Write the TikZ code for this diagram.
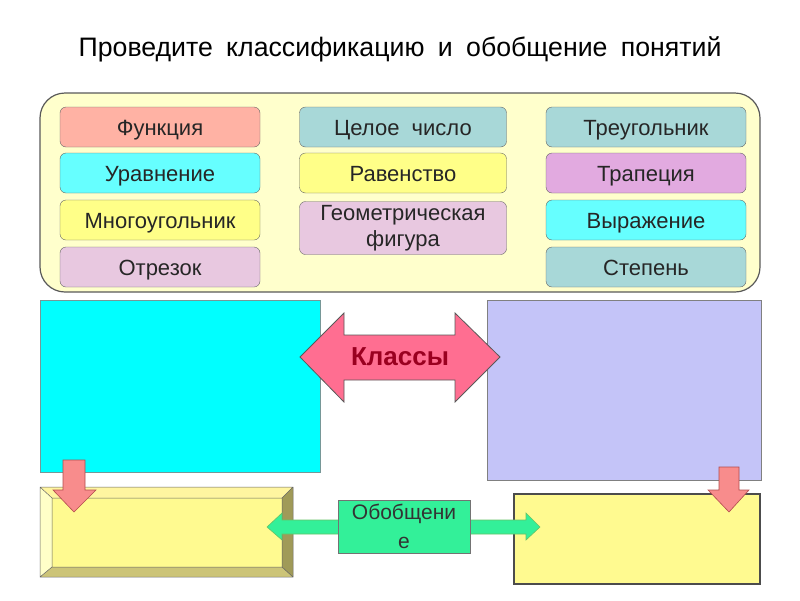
\documentclass[tikz,border=0pt]{standalone}
\usepackage{fontspec}
\setmainfont{Liberation Sans}
\definecolor{panelfill}{HTML}{FFFFCC}
\definecolor{salmon}{HTML}{FFB2A4}
\definecolor{aqua}{HTML}{66FFFF}
\definecolor{lemon}{HTML}{FFFF88}
\definecolor{mauve}{HTML}{E8C8E0}
\definecolor{teal}{HTML}{A8D8D8}
\definecolor{orchid}{HTML}{E2AAE0}
\definecolor{brightcyan}{HTML}{00FFFF}
\definecolor{lavender}{HTML}{C4C4F8}
\definecolor{boxyellow}{HTML}{FFFA90}
\definecolor{bevellight}{HTML}{FFFFC8}
\definecolor{beveltop}{HTML}{FFF5A0}
\definecolor{bevelright}{HTML}{A09A58}
\definecolor{bevelbottom}{HTML}{CCC478}
\definecolor{rose}{HTML}{FF6E91}
\definecolor{pinkarrow}{HTML}{F88C8C}
\definecolor{mint}{HTML}{33F099}
\definecolor{darkred}{HTML}{9A0020}
\begin{document}
\begin{tikzpicture}[x=1pt,y=-1pt,
    tag/.style={draw=gray!80!black,rounded corners=6pt,minimum width=200pt,
      minimum height=40pt,align=center,text=black!85,text height=20pt,text depth=4pt,
      font=\fontsize{22}{25}\selectfont},
    downarr/.style={fill=pinkarrow,draw=red!40!gray,line width=0.6pt}]
  \useasboundingbox (0,0) rectangle (800,600);
  % Title
  \node[font=\fontsize{26.7}{30}\selectfont] (title) at (400,49)
       {\spaceskip=0.5em\relax Проведите классификацию и обобщение понятий};
  % Panel with the concepts
  \draw[fill=panelfill,draw=black!65,line width=1.2pt,rounded corners=25pt]
       (40,93) rectangle (760,292);
  \node[tag,fill=salmon]   (fn)    at (160,127) {Функция};
  \node[tag,fill=aqua]     (eqn)   at (160,173) {Уравнение};
  \node[tag,fill=lemon]    (poly)  at (160,220) {Многоугольник};
  \node[tag,fill=mauve]    (seg)   at (160,267) {Отрезок};
  \node[tag,fill=teal,minimum width=207pt]  (int)   at (403,127) {Целое\ \ число};
  \node[tag,fill=lemon,minimum width=207pt] (equal) at (403,173) {Равенство};
  \node[tag,fill=mauve,minimum width=207pt,minimum height=53pt,text height=,text depth=,
        font=\fontsize{22}{26}\selectfont] (geo) at (403,228) {Геометрическая\\фигура};
  \node[tag,fill=teal]     (tri)   at (646,127) {Треугольник};
  \node[tag,fill=orchid]   (trap)  at (646,173) {Трапеция};
  \node[tag,fill=aqua]     (expr)  at (646,220) {Выражение};
  \node[tag,fill=teal]     (pow)   at (646,267) {Степень};
  % Classes
  \draw[fill=brightcyan,draw=teal!70!black] (40,300) rectangle (320,472);
  \coordinate (cls1) at (180,386);
  \draw[fill=lavender,draw=gray] (487,300) rectangle (761,480);
  \coordinate (cls2) at (624,390);
  % Generalisation boxes
  \fill[bevelbottom] (40,487) rectangle (293,577);
  \fill[beveltop] (40,487) -- (293,487) -- (282,498) -- (52,498) -- cycle;
  \fill[bevellight] (40,487) -- (52,498) -- (52,567) -- (40,577) -- cycle;
  \fill[bevelright] (293,487) -- (293,577) -- (282,567) -- (282,498) -- cycle;
  \fill[boxyellow] (52,498) rectangle (282,567);
  \draw[black!60,line width=0.5pt] (40,487) rectangle (293,577)
       (52,498) rectangle (282,567)
       (40,487) -- (52,498) (293,487) -- (282,498)
       (40,577) -- (52,567) (293,577) -- (282,567);
  \coordinate (gen1) at (166,532);
  \draw[fill=boxyellow,draw=black!70,line width=1.8pt] (514,494) rectangle (760,584);
  \coordinate (gen2) at (637,539);
  % Down arrows
  \draw[downarr] (63,460) -- (85,460) -- (85,490) -- (96,490) -- (74,512)
       -- (53,490) -- (63,490) -- cycle;
  \draw[downarr] (719,467) -- (739,467) -- (739,490) -- (749,490) -- (729,512)
       -- (708,490) -- (719,490) -- cycle;
  % Arrow "Классы"
  \draw[fill=rose,draw=black!65,line width=0.8pt] (300,357) -- (344,313) -- (344,335)
       -- (455,335) -- (455,313) -- (500,357) -- (455,402) -- (455,380)
       -- (344,380) -- (344,402) -- cycle;
  \node[font=\bfseries\fontsize{26}{30}\selectfont,text=darkred] (cls) at (400,357) {Классы};
  % Arrow "Обобщение"
  \draw[fill=mint,draw=green!60!black!60,line width=0.6pt] (267,527) -- (282,513)
       -- (282,520) -- (526,520) -- (526,513) -- (540,527) -- (526,540)
       -- (526,534) -- (282,534) -- (282,540) -- cycle;
  \node[fill=mint,draw=black!55,minimum width=132pt,minimum height=53pt,
        align=center,inner sep=1pt,text=black!80,
        font=\fontsize{21}{29}\selectfont] (gen) at (404,526.5) {Обобщени\\е};
\end{tikzpicture}
\end{document}
